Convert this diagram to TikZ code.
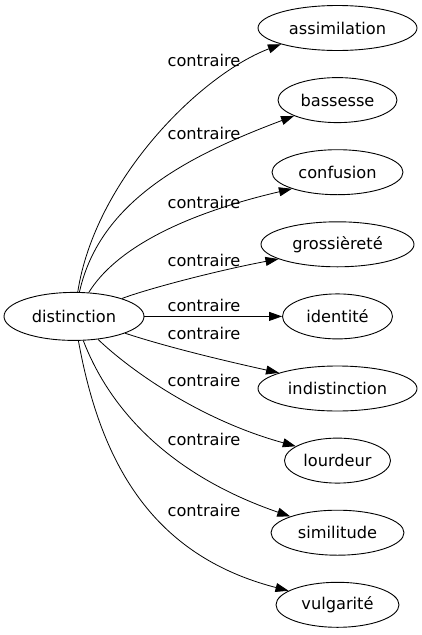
\documentclass[tikz,border=0pt]{standalone}
\usepackage{fontspec}
\setmainfont{DejaVu Sans}
\usetikzlibrary{shapes,positioning}
\usetikzlibrary{arrows.meta}
\tikzset{>={Triangle[length=13pt,width=9pt]}}
\tikzset{mot/.style={draw,ellipse,inner sep=0pt,minimum height=45pt,line width=0.9pt}}
\tikzset{lien/.style={->,line width=0.8pt}}
\tikzset{etiq/.style={inner sep=0pt}}

\begin{document}
\begin{tikzpicture}[x=1pt,y=1pt,font=\fontsize{16.2}{18}\selectfont]
    \useasboundingbox (0,0) rectangle (421,-635);

    \node[mot,minimum width=140pt,minimum height=48pt] (distinction) at (74,-316.4) {distinction};

    \node[mot,minimum width=159pt] (assimilation) at (337.5,-28) {assimilation};
    \node[mot,minimum width=119pt] (bassesse) at (337.5,-100.1) {bassesse};
    \node[mot,minimum width=131pt] (confusion) at (337.5,-172.2) {confusion};
    \node[mot,minimum width=153pt] (grossierete) at (337.5,-244.3) {grossièreté};
    \node[mot,minimum width=110pt] (identite) at (337.5,-316.4) {identité};
    \node[mot,minimum width=159pt] (indistinction) at (337.5,-388.5) {indistinction};
    \node[mot,minimum width=106pt] (lourdeur) at (337.5,-460.6) {lourdeur};
    \node[mot,minimum width=133pt] (similitude) at (337.5,-532.7) {similitude};
    \node[mot,minimum width=123pt] (vulgarite) at (337.5,-604.8) {vulgarité};

    \node[etiq] (c1) at (204,-60) {contraire};
    \node[etiq] (c2) at (204,-133) {contraire};
    \node[etiq] (c3) at (204,-202) {contraire};
    \node[etiq] (c4) at (204,-260) {contraire};
    \node[etiq] (c5) at (204,-305) {contraire};
    \node[etiq] (c6) at (204,-333) {contraire};
    \node[etiq] (c7) at (204,-380) {contraire};
    \node[etiq] (c8) at (204,-439) {contraire};
    \node[etiq] (c9) at (204,-510) {contraire};

    \draw[lien] (distinction) .. controls (95,-180) and (200,-75) .. (assimilation.196);
    \draw[lien] (distinction) .. controls (100,-200) and (190,-155) .. (bassesse.200);
    \draw[lien] (distinction) .. controls (115,-250) and (180,-215) .. (confusion.200);
    \draw[lien] (distinction) .. controls (150,-288) and (220,-270) .. (grossierete.194);
    \draw[lien] (distinction) -- (identite);
    \draw[lien] (distinction) .. controls (170,-348) and (230,-362) .. (indistinction.165);
    \draw[lien] (distinction) .. controls (130,-370) and (200,-420) .. (lourdeur.161);
    \draw[lien] (distinction) .. controls (110,-410) and (170,-475) .. (similitude.161);
    \draw[lien] (distinction) .. controls (100,-460) and (150,-555) .. (vulgarite.164);

\end{tikzpicture}
\end{document}
